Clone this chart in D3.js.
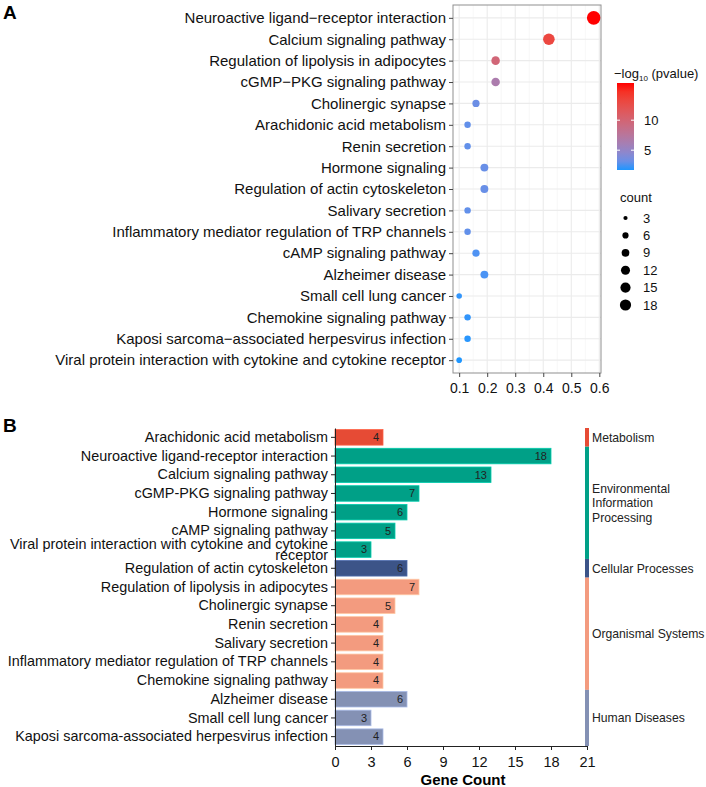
<!DOCTYPE html>
<html>
<head>
<meta charset="utf-8">
<script src="https://cdn.jsdelivr.net/npm/d3@7.9.0/dist/d3.min.js"></script>
<style>
  body { margin: 0; background: #fff; }
  svg { font-family: "Liberation Sans", Arial, sans-serif; }
</style>
</head>
<body>
<svg id="chart" width="706" height="787"></svg>
<script>
// ---- panel A data (dot plot) ----
const pathwaysA = [
  "Neuroactive ligand\u2212receptor interaction",
  "Calcium signaling pathway",
  "Regulation of lipolysis in adipocytes",
  "cGMP\u2212PKG signaling pathway",
  "Cholinergic synapse",
  "Arachidonic acid metabolism",
  "Renin secretion",
  "Hormone signaling",
  "Regulation of actin cytoskeleton",
  "Salivary secretion",
  "Inflammatory mediator regulation of TRP channels",
  "cAMP signaling pathway",
  "Alzheimer disease",
  "Small cell lung cancer",
  "Chemokine signaling pathway",
  "Kaposi sarcoma\u2212associated herpesvirus infection",
  "Viral protein interaction with cytokine and cytokine receptor"
];
const ratioA = [0.58, 0.42, 0.23, 0.23, 0.16, 0.13, 0.13, 0.19, 0.19, 0.13, 0.13, 0.16, 0.19, 0.10, 0.13, 0.13, 0.10];
const countA = [18, 13, 7, 7, 5, 4, 4, 6, 6, 4, 4, 5, 6, 3, 4, 4, 3];
const logpA = [16.2, 13.2, 9.8, 6.5, 3.2, 2.9, 2.9, 3.1, 3.1, 2.9, 2.9, 2.4, 2.3, 1.9, 1.9, 1.8, 1.7];
const xTicksA = [0.1, 0.2, 0.3, 0.4, 0.5, 0.6];
const colorTicks = [5, 10];
const sizeTicks = [3, 6, 9, 12, 15, 18];

// ---- panel B data (bar chart) ----
const pathwaysB = [
  "Arachidonic acid metabolism",
  "Neuroactive ligand-receptor interaction",
  "Calcium signaling pathway",
  "cGMP-PKG signaling pathway",
  "Hormone signaling",
  "cAMP signaling pathway",
  "Viral protein interaction with cytokine and cytokine receptor",
  "Regulation of actin cytoskeleton",
  "Regulation of lipolysis in adipocytes",
  "Cholinergic synapse",
  "Renin secretion",
  "Salivary secretion",
  "Inflammatory mediator regulation of TRP channels",
  "Chemokine signaling pathway",
  "Alzheimer disease",
  "Small cell lung cancer",
  "Kaposi sarcoma-associated herpesvirus infection"
];
const countB = [4, 18, 13, 7, 6, 5, 3, 6, 7, 5, 4, 4, 4, 4, 6, 3, 4];
const classB = [
  "Metabolism",
  "Environmental Information Processing", "Environmental Information Processing",
  "Environmental Information Processing", "Environmental Information Processing",
  "Environmental Information Processing", "Environmental Information Processing",
  "Cellular Processes",
  "Organismal Systems", "Organismal Systems", "Organismal Systems",
  "Organismal Systems", "Organismal Systems", "Organismal Systems",
  "Human Diseases", "Human Diseases", "Human Diseases"
];
const classes = ["Metabolism", "Environmental Information Processing", "Cellular Processes", "Organismal Systems", "Human Diseases"];
const classLines = [["Metabolism"], ["Environmental", "Information", "Processing"], ["Cellular Processes"], ["Organismal Systems"], ["Human Diseases"]];
const classColors = ["#E64B35", "#00A087", "#3C5488", "#F39B7F", "#8491B4"];
const xTicksB = [0, 3, 6, 9, 12, 15, 18, 21];

const svg = d3.select("#chart");
const FONT = '"Liberation Sans", Arial, sans-serif';

// ================= Panel A =================
function drawA() {
  const g = svg.append("g");
  const left = 453, right = 601, top = 5, bottom = 373;

  const x = d3.scaleLinear().domain([0.078, 0.606]).range([left, right]);
  const y = d3.scalePoint().domain(pathwaysA).range([top, bottom]).padding(0.6);
  const color = d3.scaleLinear().domain([1.7, 16.2]).range(["#1e96ff", "#ff0000"]).interpolate(d3.interpolateLab);
  const size = d3.scaleSqrt().domain([3, 18]).range([2.8, 6.8]);
  const legendSize = d3.scaleSqrt().domain([3, 18]).range([2.1, 5.6]);

  g.append("text")
    .attr("x", 3).attr("y", 19)
    .attr("font-size", 19).attr("font-weight", "bold")
    .text("A");

  // grid
  const minor = [0.15, 0.25, 0.35, 0.45, 0.55];
  g.selectAll(".minor").data(minor).enter().append("line")
    .attr("x1", d => x(d)).attr("x2", d => x(d))
    .attr("y1", top).attr("y2", bottom)
    .attr("stroke", "#f2f2f2").attr("stroke-width", 0.6);
  g.selectAll(".major-x").data(xTicksA).enter().append("line")
    .attr("x1", d => x(d)).attr("x2", d => x(d))
    .attr("y1", top).attr("y2", bottom)
    .attr("stroke", "#ebebeb").attr("stroke-width", 1.1);
  g.selectAll(".major-y").data(pathwaysA).enter().append("line")
    .attr("x1", left).attr("x2", right)
    .attr("y1", d => y(d)).attr("y2", d => y(d))
    .attr("stroke", "#ebebeb").attr("stroke-width", 1.1);

  // dots
  const rows = pathwaysA.map((p, i) => ({ p: p, r: ratioA[i], n: countA[i], lp: logpA[i] }));
  g.selectAll(".dot").data(rows).enter().append("circle")
    .attr("cx", d => x(d.r))
    .attr("cy", d => y(d.p))
    .attr("r", d => size(d.n))
    .attr("fill", d => color(d.lp));

  g.append("rect")
    .attr("x", left).attr("y", top)
    .attr("width", right - left).attr("height", bottom - top)
    .attr("fill", "none").attr("stroke", "#8f8f8f").attr("stroke-width", 1);

  // axes
  const yAxis = g.append("g")
    .attr("transform", `translate(${left},0)`)
    .call(d3.axisLeft(y).tickSize(4).tickPadding(3));
  yAxis.select(".domain").remove();
  yAxis.selectAll("line").attr("stroke", "#444");
  yAxis.selectAll("text").attr("font-size", 15).attr("fill", "#111").attr("font-family", FONT);

  const xAxis = g.append("g")
    .attr("transform", `translate(0,${bottom})`)
    .call(d3.axisBottom(x).tickValues(xTicksA).tickFormat(d3.format(".1f")).tickSize(4).tickPadding(6));
  xAxis.select(".domain").remove();
  xAxis.selectAll("line").attr("stroke", "#444");
  xAxis.selectAll("text").attr("font-size", 14).attr("fill", "#111").attr("font-family", FONT);

  // colour legend
  const title = g.append("text").attr("x", 614).attr("y", 78).attr("font-size", 13).attr("fill", "#111");
  title.append("tspan").text("\u2212log");
  title.append("tspan").attr("font-size", 8).attr("dy", 3).text("10");
  title.append("tspan").attr("dy", -3).text(" (pvalue)");

  const grad = svg.append("defs").append("linearGradient")
    .attr("id", "pgrad").attr("x1", 0).attr("x2", 0).attr("y1", 1).attr("y2", 0);
  d3.range(0, 1.0001, 0.1).forEach(t => {
    grad.append("stop").attr("offset", t).attr("stop-color", color(1.7 + t * (16.2 - 1.7)));
  });
  const cb = d3.scaleLinear().domain([1.7, 16.2]).range([170, 83]);
  g.append("rect").attr("x", 617).attr("y", 83).attr("width", 17).attr("height", 87)
    .attr("fill", "url(#pgrad)");
  colorTicks.forEach(v => {
    g.append("line").attr("x1", 617).attr("x2", 620).attr("y1", cb(v)).attr("y2", cb(v)).attr("stroke", "#fff");
    g.append("line").attr("x1", 631).attr("x2", 634).attr("y1", cb(v)).attr("y2", cb(v)).attr("stroke", "#fff");
    g.append("text").attr("x", 644).attr("y", cb(v)).attr("dy", "0.35em")
      .attr("font-size", 13).attr("fill", "#111").text(v);
  });

  // size legend
  g.append("text").attr("x", 620).attr("y", 202).attr("font-size", 13).attr("fill", "#111").text("count");
  sizeTicks.forEach((v, i) => {
    const cy = 218 + i * 17.4;
    g.append("circle").attr("cx", 625.5).attr("cy", cy).attr("r", legendSize(v)).attr("fill", "#000");
    g.append("text").attr("x", 643).attr("y", cy).attr("dy", "0.35em")
      .attr("font-size", 13).attr("fill", "#111").text(v);
  });
}

// ================= Panel B =================
function wrapLabel(text, maxWidth) {
  text.each(function () {
    const t = d3.select(this);
    if (this.getComputedTextLength() <= maxWidth) return;
    const words = t.text().split(" ");
    const last = words.pop();
    t.text(null);
    t.append("tspan").attr("x", -7).attr("dy", "-0.02em").text(words.join(" "));
    t.append("tspan").attr("x", -7).attr("dy", "0.74em").text(last);
  });
}

function drawB() {
  const g = svg.append("g");
  const left = 335, right = 587, top = 428, bottom = 746;

  const x = d3.scaleLinear().domain([0, 21]).range([left, right]);
  const y = d3.scaleBand().domain(pathwaysB).range([top, bottom]).paddingInner(0.17).paddingOuter(0.085);
  const colorOf = d3.scaleOrdinal().domain(classes).range(classColors);

  g.append("text")
    .attr("x", 3).attr("y", 432)
    .attr("font-size", 19).attr("font-weight", "bold")
    .text("B");

  const rows = pathwaysB.map((p, i) => ({ p: p, n: countB[i], c: classB[i] }));
  g.selectAll(".bar").data(rows).enter().append("rect")
    .attr("x", x(0))
    .attr("y", d => y(d.p))
    .attr("width", d => x(d.n) - x(0))
    .attr("height", y.bandwidth())
    .attr("fill", d => colorOf(d.c))
    .attr("stroke", d => d3.color(colorOf(d.c)).brighter(0.7))
    .attr("stroke-width", 0.8);

  g.selectAll(".val").data(rows).enter().append("text")
    .attr("x", d => x(d.n) - 4)
    .attr("y", d => y(d.p) + y.bandwidth() / 2)
    .attr("dy", "0.35em")
    .attr("text-anchor", "end")
    .attr("font-size", 11)
    .attr("fill", "#222")
    .text(d => d.n);

  // axes
  const yAxis = g.append("g")
    .attr("transform", `translate(${left},0)`)
    .call(d3.axisLeft(y).tickSize(4).tickPadding(3).tickSizeOuter(0));
  yAxis.select(".domain").attr("stroke", "#222");
  yAxis.selectAll("line").attr("stroke", "#222");
  yAxis.selectAll("text").attr("font-size", 14.4).attr("fill", "#111").attr("font-family", FONT)
    .call(wrapLabel, 325);

  const xAxis = g.append("g")
    .attr("transform", `translate(0,${bottom})`)
    .call(d3.axisBottom(x).tickValues(xTicksB).tickSize(4).tickPadding(7).tickSizeOuter(0));
  xAxis.select(".domain").attr("stroke", "#222");
  xAxis.selectAll("line").attr("stroke", "#222");
  xAxis.selectAll("text").attr("font-size", 14.5).attr("fill", "#111").attr("font-family", FONT);

  g.append("text")
    .attr("x", (left + right) / 2 + 2).attr("y", 785)
    .attr("text-anchor", "middle")
    .attr("font-size", 15).attr("font-weight", "bold")
    .text("Gene Count");

  // class strip on the right
  const half = y.step() * y.paddingInner() / 2;
  classes.forEach((c, k) => {
    const members = pathwaysB.filter((p, i) => classB[i] === c);
    const y0 = y(members[0]) - half;
    const y1 = y(members[members.length - 1]) + y.bandwidth() + half;
    g.append("rect")
      .attr("x", 585).attr("y", y0)
      .attr("width", 4).attr("height", y1 - y0)
      .attr("fill", classColors[k]);
    const lines = classLines[k];
    const mid = (y0 + y1) / 2;
    lines.forEach((s, j) => {
      g.append("text")
        .attr("x", 592)
        .attr("y", mid + (j - (lines.length - 1) / 2) * 14.5)
        .attr("dy", "0.35em")
        .attr("font-size", 12.2).attr("fill", "#222")
        .text(s);
    });
  });
}

drawA();
drawB();
</script>
</body>
</html>
